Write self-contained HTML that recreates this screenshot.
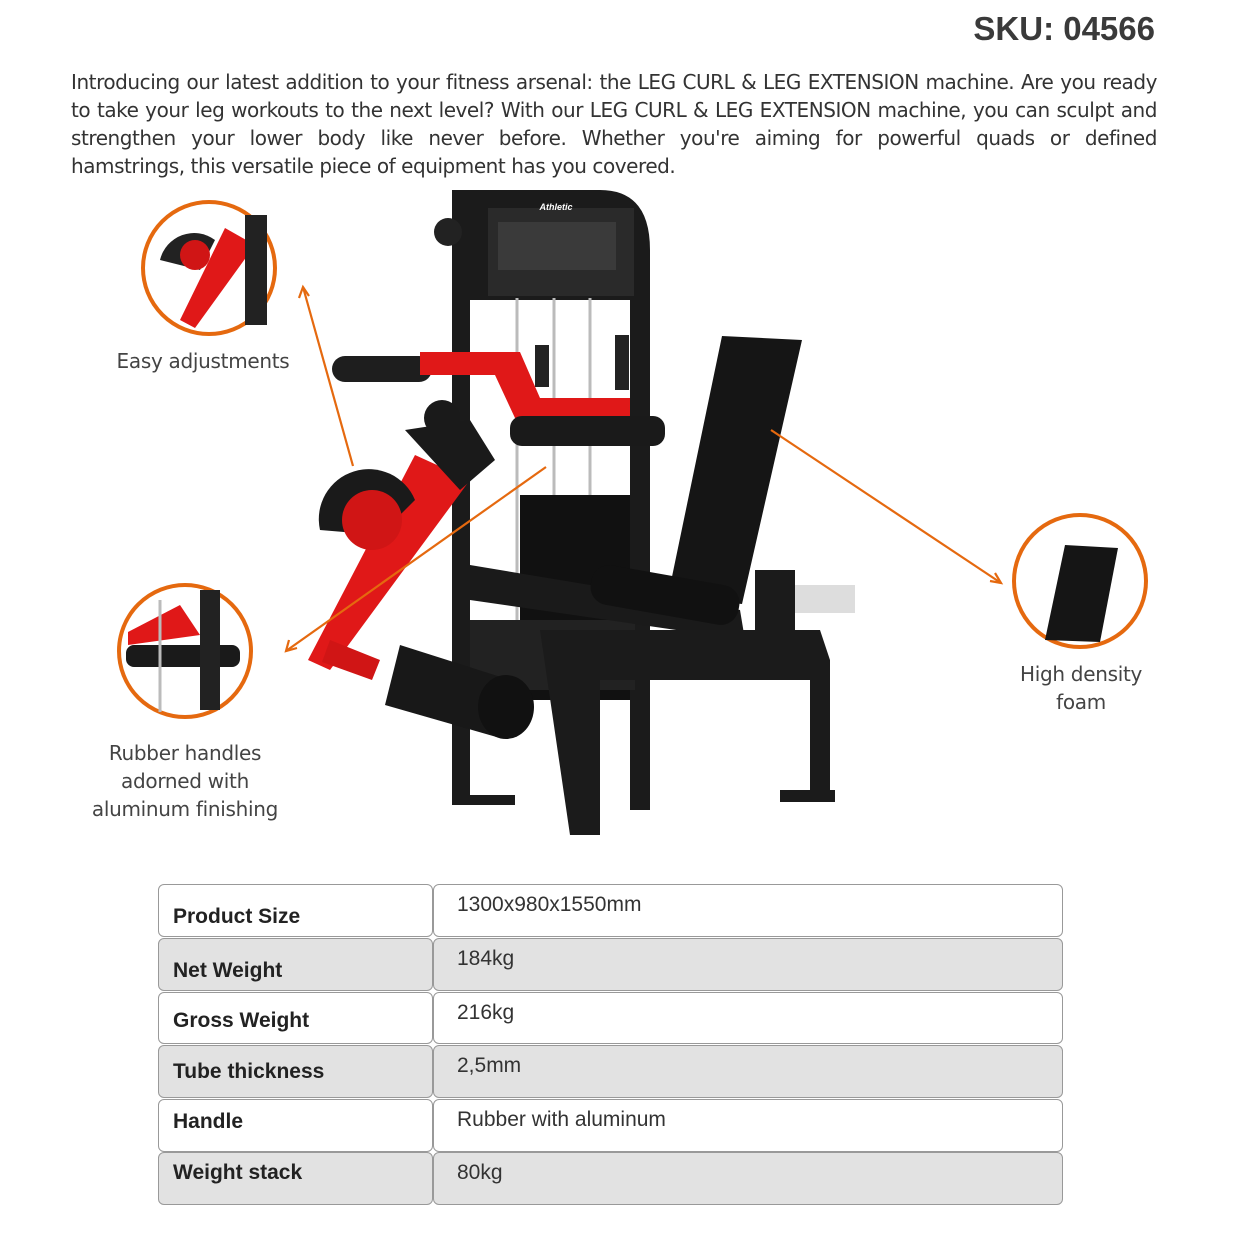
<!DOCTYPE html>
<html><head><meta charset="utf-8"><style>
body{margin:0;width:1240px;height:1240px;background:#fff;position:relative;overflow:hidden;font-family:"Liberation Sans","DejaVu Sans",sans-serif;color:#3a3a3a}
.sku{position:absolute;right:85px;top:10px;font-size:33px;font-weight:bold;color:#3a3a3a}
.intro{position:absolute;left:71px;top:68px;width:1086px;font-size:20px;line-height:28px;color:#333;font-family:"DejaVu Sans","Liberation Sans",sans-serif;letter-spacing:-0.45px}
.intro div{text-align:justify;text-align-last:justify;white-space:nowrap}
.intro div.last{text-align-last:left}
.lab{position:absolute;font-size:20px;line-height:28px;text-align:center;color:#444;font-family:"DejaVu Sans","Liberation Sans",sans-serif;letter-spacing:-0.3px}
.cell{position:absolute;box-sizing:border-box;border:1.5px solid #999;border-radius:6px;font-size:21px}
.l{left:158px;width:275px;font-weight:bold;color:#222;padding:20px 0 0 14px}
.r{left:433px;width:630px;color:#333;padding:8px 0 0 23px}
.g{background:#e2e2e2}
</style></head><body>
<div class="sku">SKU: 04566</div>
<div class="intro">
<div>Introducing our latest addition to your fitness arsenal: the LEG CURL &amp; LEG EXTENSION machine. Are you ready</div>
<div>to take your leg workouts to the next level? With our LEG CURL &amp; LEG EXTENSION machine, you can sculpt and</div>
<div>strengthen your lower body like never before. Whether you're aiming for powerful quads or defined</div>
<div class="last">hamstrings, this versatile piece of equipment has you covered.</div>
</div>

<svg width="1240" height="880" style="position:absolute;left:0;top:0">
<path d="M446 190 H600 Q650 190 650 250 V810 H630 V300 H470 V805 H452 V190Z" fill="#1b1b1b"/>
<rect x="488" y="208" width="146" height="88" fill="#2a2a2a"/>
<rect x="498" y="222" width="118" height="48" fill="#3a3a3a"/>
<text x="556" y="210" font-size="9" fill="#fff" font-style="italic" font-weight="bold" text-anchor="middle">Athletic</text>
<circle cx="448" cy="232" r="14" fill="#222"/>
<line x1="517" y1="298" x2="517" y2="640" stroke="#bbb" stroke-width="3"/>
<line x1="554" y1="298" x2="554" y2="640" stroke="#bbb" stroke-width="3"/>
<line x1="590" y1="298" x2="590" y2="640" stroke="#bbb" stroke-width="3"/>
<rect x="520" y="495" width="110" height="205" fill="#111"/>
<rect x="470" y="620" width="165" height="70" fill="#222"/>
<rect x="332" y="356" width="100" height="26" rx="13" fill="#1e1e1e"/>
<path d="M420 352 H520 L540 398 H630 V418 H515 L495 375 H420Z" fill="#e01818"/>
<rect x="510" y="416" width="155" height="30" rx="12" fill="#1a1a1a"/>
<rect x="535" y="345" width="14" height="42" fill="#222"/>
<rect x="615" y="335" width="14" height="55" fill="#222"/>
<circle cx="442" cy="418" r="18" fill="#1a1a1a"/>
<path d="M415 455 L470 480 L330 670 L308 660Z" fill="#e01818"/>
<path d="M330 640 L380 660 L372 680 L322 662Z" fill="#d01515"/>
<path d="M320 530 A50 50 0 0 1 415 500 L380 535 Z" fill="#1a1a1a"/>
<circle cx="372" cy="520" r="30" fill="#d01515"/>
<polygon points="405,430 470,420 495,460 460,490" fill="#1a1a1a"/>
<polygon points="722,336 802,340 742,604 668,596" fill="#151515"/>
<path d="M470 565 L740 610 L745 640 L470 600Z" fill="#1a1a1a"/>
<rect x="590" y="575" width="150" height="40" rx="18" fill="#111" transform="rotate(10 665 595)"/>
<path d="M540 630 H820 L830 660 V790 H810 V680 H600 V835 H570Z" fill="#1b1b1b"/>
<rect x="755" y="570" width="40" height="70" fill="#1b1b1b"/>
<rect x="795" y="585" width="60" height="28" fill="#ddd"/>
<path d="M400 645 L510 680 L500 738 L385 705Z" fill="#181818"/>
<ellipse cx="506" cy="707" rx="28" ry="32" fill="#111"/>
<rect x="455" y="795" width="60" height="10" fill="#1b1b1b"/>
<rect x="780" y="790" width="55" height="12" fill="#1b1b1b"/>
<g stroke="#e5690f" stroke-width="2.2" fill="none">
<line x1="353" y1="466" x2="303" y2="287"/><polyline points="299,298 303,287 309,296"/>
<line x1="546" y1="467" x2="286" y2="651"/><polyline points="289,640 286,651 297,648"/>
<line x1="771" y1="430" x2="1001" y2="583"/><polyline points="990,581 1001,583 995,573"/>
</g>
<circle cx="209" cy="268" r="66" fill="#fff" stroke="#e5690f" stroke-width="4"/>
<path d="M160 260 A35 35 0 0 1 215 240 L200 270Z" fill="#222"/>
<path d="M225 228 L255 245 L195 328 L180 320Z" fill="#e01818"/>
<circle cx="195" cy="255" r="15" fill="#d01515"/>
<rect x="245" y="215" width="22" height="110" fill="#222"/>
<circle cx="185" cy="651" r="66" fill="#fff" stroke="#e5690f" stroke-width="4"/>
<rect x="126" y="645" width="114" height="22" rx="8" fill="#1a1a1a"/>
<path d="M128 632 L180 605 L200 635 L128 645Z" fill="#e01818"/>
<rect x="200" y="590" width="20" height="120" fill="#222"/>
<line x1="160" y1="600" x2="160" y2="712" stroke="#bbb" stroke-width="3"/>
<circle cx="1080" cy="581" r="66" fill="#fff" stroke="#e5690f" stroke-width="4"/>
<polygon points="1065,545 1118,548 1100,642 1045,640" fill="#151515"/>
</svg>

<div class="lab" style="left:103px;top:347px;width:200px">Easy adjustments</div>
<div class="lab" style="left:70px;top:739px;width:230px">Rubber handles<br>adorned with<br>aluminum finishing</div>
<div class="lab" style="left:1000px;top:660px;width:162px">High density<br>foam</div>

<div class="cell l" style="top:884px;height:53px">Product Size</div>
<div class="cell r" style="top:884px;height:53px">1300x980x1550mm</div>
<div class="cell l g" style="top:938px;height:53px">Net Weight</div>
<div class="cell r g" style="top:938px;height:53px">184kg</div>
<div class="cell l" style="top:992px;height:52px;padding-top:16px">Gross Weight</div>
<div class="cell r" style="top:992px;height:52px">216kg</div>
<div class="cell l g" style="top:1045px;height:53px;padding-top:14px">Tube thickness</div>
<div class="cell r g" style="top:1045px;height:53px">2,5mm</div>
<div class="cell l" style="top:1099px;height:53px;padding-top:10px">Handle</div>
<div class="cell r" style="top:1099px;height:53px">Rubber with aluminum</div>
<div class="cell l g" style="top:1152px;height:53px;padding-top:8px">Weight stack</div>
<div class="cell r g" style="top:1152px;height:53px">80kg</div>
</body></html>
